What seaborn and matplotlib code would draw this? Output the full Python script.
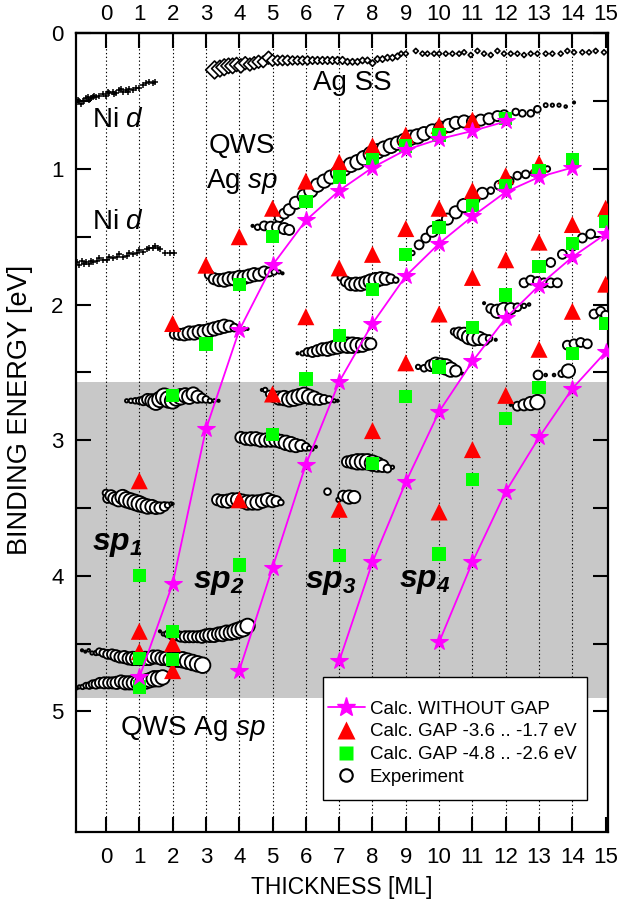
import matplotlib
matplotlib.use('Agg')
import matplotlib.pyplot as plt
from matplotlib.lines import Line2D
from matplotlib.patches import Rectangle
import numpy as np
import pandas as pd
import seaborn as sns

# Calc. WITHOUT GAP (magenta stars), one branch per QWS
sp1_x = [1, 2, 3, 4, 5, 6, 7, 8, 9, 10, 11, 12]
sp1_y = [4.75, 4.06, 2.92, 2.19, 1.71, 1.38, 1.16, 0.99, 0.86, 0.78, 0.72, 0.65]
sp2_x = [4, 5, 6, 7, 8, 9, 10, 11, 12, 13, 14]
sp2_y = [4.70, 3.94, 3.18, 2.57, 2.14, 1.79, 1.55, 1.35, 1.17, 1.06, 0.99]
sp3_x = [7, 8, 9, 10, 11, 12, 13, 14, 15]
sp3_y = [4.63, 3.90, 3.31, 2.79, 2.42, 2.10, 1.86, 1.65, 1.48]
sp4_x = [10, 11, 12, 13, 14, 15]
sp4_y = [4.49, 3.90, 3.38, 2.98, 2.62, 2.35]

# Calc. GAP -3.6 .. -1.7 eV (red triangles)
gap1_x = [1, 1, 1, 2, 2, 2, 3, 4, 4, 5, 5, 6, 6, 7, 7, 7, 8, 8, 8, 9, 9, 9,
          10, 10, 10, 10, 11, 11, 11, 11, 12, 12, 12, 13, 13, 13, 14, 14, 15, 15]
gap1_y = [3.30, 4.41, 4.56, 2.14, 4.50, 4.70, 1.71, 1.50, 3.44, 1.29, 2.66,
          1.09, 2.09, 0.95, 1.73, 3.51, 0.83, 1.63, 2.93, 0.75, 1.44, 2.43,
          0.68, 1.29, 2.07, 3.53, 0.64, 1.16, 1.80, 3.07, 1.05, 1.67, 2.67,
          0.96, 1.54, 2.33, 1.41, 2.05, 1.29, 1.85]

# Calc. GAP -4.8 .. -2.6 eV (green squares)
gap2_x = [1, 1, 1, 2, 2, 2, 3, 4, 4, 5, 5, 6, 6, 7, 7, 7, 8, 8, 8, 9, 9, 9,
          10, 10, 10, 10, 11, 11, 11, 12, 12, 12, 12, 13, 13, 13, 14, 14, 14, 15, 15]
gap2_y = [4.00, 4.61, 4.82, 2.67, 4.41, 4.62, 2.29, 1.85, 3.92, 1.50, 2.96,
          1.24, 2.55, 1.06, 2.23, 3.85, 0.93, 1.89, 3.17, 0.83, 1.63, 2.68,
          0.75, 1.43, 2.46, 3.84, 1.27, 2.17, 3.29, 0.63, 1.12, 1.93, 2.84,
          1.01, 1.72, 2.61, 0.93, 1.55, 2.36, 1.39, 2.14]

# Experiment: (thickness, binding energy, intensity) per peak track
exp_a = [(5.2, 1.36, 4), (5.35, 1.33, 4.5), (5.5, 1.30, 5), (5.7, 1.25, 5.5), (5.95, 1.20, 6),
         (6.15, 1.16, 6), (6.35, 1.12, 6), (6.55, 1.09, 6), (6.75, 1.06, 6), (6.95, 1.03, 6),
         (7.15, 1.00, 6), (7.35, 0.97, 6.5), (7.55, 0.95, 6.5), (7.75, 0.92, 6.5), (7.95, 0.89, 6.5),
         (8.15, 0.87, 6.5), (8.35, 0.85, 6.5), (8.55, 0.83, 6.5), (8.75, 0.81, 6), (8.95, 0.79, 6),
         (9.15, 0.77, 6.5), (9.35, 0.76, 6.5), (9.55, 0.74, 6), (9.8, 0.72, 6), (10.05, 0.70, 6),
         (10.3, 0.68, 6), (10.5, 0.66, 5.5), (10.75, 0.65, 5.5), (11.0, 0.65, 5), (11.25, 0.64, 5),
         (11.5, 0.63, 5), (11.75, 0.61, 4.5), (11.95, 0.60, 4), (12.3, 0.58, 3), (12.5, 0.59, 3),
         (12.75, 0.59, 3), (12.95, 0.56, 3), (13.2, 0.53, 1.8), (13.4, 0.53, 1.5), (13.6, 0.53, 1.5),
         (13.8, 0.54, 1.2), (14.05, 0.51, 1)]
exp_b = [(4.4, 1.42, 1), (4.55, 1.43, 2.5), (4.75, 1.42, 4), (4.95, 1.43, 5), (5.15, 1.43, 5),
         (5.35, 1.44, 5), (5.5, 1.45, 4.5)]
exp_c = [(3.1, 1.78, 4), (3.25, 1.81, 5), (3.4, 1.82, 5.5), (3.55, 1.82, 6), (3.7, 1.81, 6),
         (3.85, 1.81, 6), (4.0, 1.80, 6), (4.15, 1.80, 6), (4.3, 1.79, 6), (4.45, 1.78, 6),
         (4.6, 1.78, 5.5), (4.75, 1.76, 5), (4.9, 1.76, 4), (5.05, 1.76, 2.5), (5.2, 1.76, 1.5),
         (5.3, 1.77, 1)]
exp_d = [(2.05, 2.22, 4), (2.2, 2.22, 5), (2.35, 2.22, 5.5), (2.5, 2.21, 6), (2.65, 2.21, 6),
         (2.8, 2.20, 6), (2.95, 2.20, 6), (3.1, 2.19, 6), (3.25, 2.18, 6), (3.4, 2.17, 6),
         (3.55, 2.16, 6), (3.7, 2.16, 5), (3.85, 2.17, 3.5), (4.0, 2.18, 2), (4.15, 2.18, 1.5),
         (4.25, 2.18, 1)]
exp_e = [(0.62, 2.71, 1.5), (0.75, 2.71, 2), (0.88, 2.71, 2.5), (1.0, 2.71, 3), (1.12, 2.71, 4),
         (1.25, 2.70, 5), (1.38, 2.71, 6), (1.5, 2.72, 7), (1.62, 2.70, 7), (1.75, 2.68, 7.5),
         (1.88, 2.70, 7.5), (2.0, 2.71, 7), (2.12, 2.69, 7), (2.25, 2.68, 7), (2.38, 2.67, 6.5),
         (2.5, 2.68, 6.5), (2.62, 2.66, 6), (2.75, 2.68, 5.5), (2.88, 2.69, 4), (3.0, 2.70, 3),
         (3.12, 2.71, 2), (3.25, 2.71, 1.5), (3.38, 2.71, 1)]
exp_f = [(4.68, 2.63, 1), (4.78, 2.63, 2), (4.9, 2.66, 3), (5.05, 2.68, 5), (5.2, 2.69, 6),
         (5.35, 2.69, 6.5), (5.5, 2.70, 6.5), (5.65, 2.69, 7), (5.8, 2.68, 7), (5.95, 2.67, 7),
         (6.1, 2.68, 6.5), (6.25, 2.69, 6), (6.4, 2.70, 5), (6.55, 2.70, 4), (6.7, 2.70, 3),
         (6.85, 2.71, 1.5), (6.95, 2.71, 1)]
exp_g = [(5.75, 2.36, 1), (5.9, 2.36, 2), (6.05, 2.35, 3.5), (6.2, 2.35, 4.5), (6.35, 2.34, 5),
         (6.5, 2.33, 5.5), (6.65, 2.33, 6), (6.8, 2.32, 6), (6.95, 2.31, 6.5), (7.1, 2.30, 6.5),
         (7.25, 2.30, 7), (7.4, 2.30, 7), (7.55, 2.30, 6.5), (7.7, 2.30, 6), (7.85, 2.29, 5.5),
         (7.95, 2.29, 5)]
exp_h = [(7.05, 1.80, 3), (7.2, 1.83, 4.5), (7.35, 1.85, 5.5), (7.5, 1.85, 6), (7.65, 1.85, 6),
         (7.8, 1.84, 6), (7.95, 1.83, 6.5), (8.1, 1.82, 6.5), (8.25, 1.81, 6), (8.4, 1.81, 5.5),
         (8.55, 1.81, 4), (8.7, 1.82, 2.5)]
exp_i = [(4.05, 2.98, 5), (4.2, 2.99, 5.5), (4.35, 2.99, 6), (4.5, 2.99, 6), (4.65, 3.00, 6),
         (4.8, 3.00, 6), (4.95, 3.00, 6), (5.1, 3.00, 6), (5.25, 3.01, 6), (5.4, 3.02, 6.5),
         (5.55, 3.03, 6.5), (5.7, 3.04, 6), (5.85, 3.04, 5), (6.0, 3.05, 3.5), (6.1, 3.06, 2),
         (6.2, 3.07, 1), (6.3, 3.05, 1)]
exp_j = [(7.25, 3.16, 5), (7.4, 3.16, 6), (7.55, 3.16, 7), (7.7, 3.16, 7), (7.85, 3.16, 7),
         (8.0, 3.17, 7), (8.15, 3.18, 6.5), (8.3, 3.19, 5.5), (8.45, 3.21, 3.5), (8.6, 3.20, 1.5)]
exp_k = [(0.0, 3.39, 3), (0.05, 3.43, 4), (0.15, 3.41, 5), (0.25, 3.43, 5.5), (0.38, 3.44, 6),
         (0.5, 3.42, 6.5), (0.62, 3.44, 7), (0.75, 3.45, 7), (0.88, 3.46, 7), (1.0, 3.47, 7),
         (1.12, 3.48, 6.5), (1.25, 3.49, 6.5), (1.38, 3.49, 6), (1.5, 3.50, 5.5), (1.62, 3.50, 5),
         (1.75, 3.49, 4), (1.85, 3.48, 2.5), (1.95, 3.47, 1.5), (2.0, 3.47, 1)]
exp_l = [(3.35, 3.44, 5), (3.5, 3.45, 5.5), (3.65, 3.45, 6), (3.8, 3.44, 6), (3.95, 3.44, 6),
         (4.1, 3.45, 6), (4.25, 3.46, 6.5), (4.4, 3.46, 6.5), (4.55, 3.46, 6.5), (4.7, 3.45, 6),
         (4.85, 3.44, 6), (5.0, 3.45, 5.5), (5.12, 3.45, 4.5), (5.25, 3.46, 2.5)]
exp_m = [(6.65, 3.38, 3), (6.98, 3.44, 2), (7.12, 3.41, 4.5), (7.3, 3.42, 6), (7.45, 3.42, 5.5)]
exp_n = [(9.2, 1.62, 2), (9.4, 1.56, 4), (9.6, 1.51, 4), (9.8, 1.46, 5), (10.0, 1.42, 5),
         (10.25, 1.37, 5), (10.5, 1.32, 5.5), (10.75, 1.27, 6), (11.05, 1.22, 5), (11.3, 1.18, 5),
         (11.55, 1.16, 3), (11.8, 1.12, 4), (12.1, 1.09, 4), (12.35, 1.05, 3.5), (12.6, 1.04, 3.5),
         (12.85, 1.03, 3), (13.1, 1.01, 3), (13.25, 1.00, 2.5)]
exp_o = [(9.37, 2.46, 2), (9.55, 2.47, 3), (9.75, 2.45, 5), (9.9, 2.44, 6), (10.05, 2.45, 6.5),
         (10.2, 2.46, 7), (10.35, 2.48, 6.5), (10.5, 2.49, 5), (10.7, 2.51, 1)]
exp_p = [(10.45, 2.20, 3), (10.6, 2.21, 5), (10.75, 2.22, 6), (10.9, 2.24, 6.5), (11.05, 2.25, 6.5),
         (11.2, 2.25, 6), (11.35, 2.26, 5), (11.5, 2.25, 3), (11.7, 2.26, 1)]
exp_q = [(11.35, 1.99, 1), (11.55, 2.03, 4), (11.75, 2.05, 6), (11.95, 2.04, 6.5), (12.15, 2.03, 5),
         (12.35, 2.02, 3.5), (12.55, 2.01, 2), (12.7, 2.00, 1.2)]
exp_r = [(12.15, 2.74, 1), (12.35, 2.75, 4), (12.55, 2.74, 5), (12.75, 2.73, 6), (12.95, 2.72, 6.5)]
exp_s = [(12.97, 2.52, 4), (13.2, 2.52, 1.2), (13.45, 2.52, 1.2), (13.68, 2.51, 3), (13.88, 2.49, 6)]
exp_t = [(12.55, 1.84, 4), (12.75, 1.82, 4), (12.95, 1.83, 4), (13.15, 1.84, 4), (13.35, 1.84, 4),
         (13.55, 1.84, 4)]
exp_u = [(13.85, 2.30, 4), (14.05, 2.29, 4), (14.25, 2.28, 4), (14.45, 2.29, 4)]
exp_v = [(13.35, 1.69, 4), (13.7, 1.63, 4), (14.0, 1.57, 4), (14.3, 1.51, 4), (14.55, 1.48, 4)]
exp_w = [(14.65, 2.07, 4), (14.85, 2.05, 4), (15.0, 2.08, 4)]
exp_x = [(1.62, 4.41, 1), (1.72, 4.43, 1.5), (1.85, 4.43, 3), (2.0, 4.44, 4), (2.12, 4.44, 4.5),
         (2.25, 4.45, 4.5), (2.38, 4.45, 5), (2.5, 4.45, 5), (2.62, 4.45, 5), (2.75, 4.45, 5),
         (2.88, 4.45, 5.5), (3.0, 4.44, 5.5), (3.12, 4.44, 6), (3.25, 4.44, 6), (3.38, 4.43, 6),
         (3.5, 4.43, 6.5), (3.62, 4.42, 6.5), (3.75, 4.42, 6.5), (3.88, 4.41, 7), (4.0, 4.40, 7),
         (4.12, 4.39, 7), (4.25, 4.37, 6.5)]
exp_y = [(-0.72, 4.55, 1), (-0.62, 4.56, 1), (-0.52, 4.55, 1.2), (-0.42, 4.57, 1.5), (-0.3, 4.57, 2),
         (-0.2, 4.56, 3), (-0.08, 4.57, 3.5), (0.05, 4.58, 4), (0.18, 4.58, 4.5), (0.3, 4.59, 5),
         (0.42, 4.60, 5), (0.55, 4.60, 5.5), (0.68, 4.61, 5.5), (0.8, 4.61, 6), (0.92, 4.61, 6),
         (1.05, 4.61, 6), (1.18, 4.61, 6), (1.3, 4.61, 6), (1.42, 4.60, 6), (1.55, 4.60, 6),
         (1.68, 4.61, 6), (1.8, 4.61, 6), (1.92, 4.62, 6), (2.05, 4.62, 6.5), (2.18, 4.62, 6.5),
         (2.3, 4.62, 7), (2.45, 4.63, 7), (2.6, 4.64, 7), (2.75, 4.65, 7), (2.9, 4.66, 7)]
exp_z = [(-0.87, 4.83, 1), (-0.8, 4.82, 1.5), (-0.7, 4.82, 2), (-0.6, 4.81, 2.5), (-0.5, 4.81, 3),
         (-0.4, 4.80, 3.5), (-0.3, 4.80, 4), (-0.18, 4.79, 4.5), (-0.05, 4.79, 5), (0.08, 4.79, 5),
         (0.2, 4.79, 5), (0.32, 4.79, 5.5), (0.45, 4.78, 5.5), (0.58, 4.79, 6), (0.7, 4.79, 6),
         (0.82, 4.79, 6), (0.95, 4.79, 6), (1.08, 4.78, 6), (1.2, 4.78, 6.5), (1.32, 4.77, 6.5),
         (1.45, 4.76, 7), (1.58, 4.76, 7), (1.7, 4.75, 6.5)]
experiment = [exp_a, exp_b, exp_c, exp_d, exp_e, exp_f, exp_g, exp_h, exp_i, exp_j, exp_k,
              exp_l, exp_m, exp_n, exp_o, exp_p, exp_q, exp_r, exp_s, exp_t, exp_u, exp_v,
              exp_w, exp_x, exp_y, exp_z]

# Ag surface state (diamonds)
agss = [(3.26, 0.27, 7), (3.42, 0.26, 6.5), (3.55, 0.25, 6.5), (3.68, 0.24, 6), (3.8, 0.24, 6),
        (3.92, 0.23, 5.5), (4.05, 0.24, 5.5), (4.18, 0.22, 5), (4.32, 0.23, 5), (4.45, 0.22, 5),
        (4.58, 0.21, 5), (4.72, 0.21, 4.5), (4.88, 0.18, 5), (5.0, 0.20, 4.5), (5.15, 0.20, 4),
        (5.3, 0.20, 4), (5.45, 0.20, 4), (5.6, 0.20, 3.5), (5.75, 0.20, 3.5), (5.9, 0.20, 3.5),
        (6.05, 0.20, 3.5), (6.2, 0.20, 3), (6.35, 0.20, 3), (6.5, 0.20, 3), (6.65, 0.20, 3),
        (6.8, 0.20, 3), (6.95, 0.20, 3), (7.1, 0.20, 3), (7.25, 0.21, 2.5), (7.4, 0.21, 2.5),
        (7.55, 0.21, 2.5), (7.7, 0.20, 2.5), (7.85, 0.20, 2.5), (8.0, 0.22, 2.5), (8.15, 0.19, 2.5),
        (8.3, 0.19, 2.5), (8.45, 0.18, 2.5), (8.6, 0.18, 2.5), (8.75, 0.17, 2.5), (8.86, 0.15, 2),
        (9.0, 0.15, 2), (9.3, 0.13, 2), (9.5, 0.15, 2), (9.65, 0.15, 2), (9.85, 0.15, 2),
        (10.0, 0.15, 2), (10.2, 0.15, 2), (10.4, 0.15, 2), (10.6, 0.15, 2), (10.75, 0.14, 2),
        (10.95, 0.16, 2), (11.15, 0.13, 2), (11.35, 0.15, 2), (11.55, 0.16, 2), (11.75, 0.13, 2),
        (11.95, 0.15, 2), (12.15, 0.15, 2), (12.35, 0.15, 2), (12.55, 0.16, 2), (12.75, 0.15, 2),
        (12.95, 0.15, 2), (13.2, 0.15, 2), (13.4, 0.15, 2), (13.65, 0.15, 2), (13.85, 0.13, 2),
        (14.05, 0.14, 2), (14.3, 0.14, 2), (14.5, 0.14, 2), (14.7, 0.13, 2), (14.95, 0.14, 2)]

# Ni d bands (small crosses)
nid_top_x = [-0.87, -0.85, -0.8, -0.75, -0.7, -0.65, -0.6, -0.55, -0.5, -0.45, -0.4, -0.35,
             -0.3, -0.2, -0.1, 0.0, 0.05, 0.1, 0.2, 0.25, 0.3, 0.4, 0.45, 0.5, 0.6, 0.65,
             0.7, 0.8, 0.9, 1.0, 1.1, 1.2, 1.3, 1.4, 1.47]
nid_top_y = [0.51, 0.49, 0.50, 0.52, 0.50, 0.50, 0.48, 0.47, 0.49, 0.48, 0.47, 0.46,
             0.47, 0.46, 0.45, 0.46, 0.43, 0.44, 0.43, 0.45, 0.44, 0.42, 0.41, 0.43, 0.42, 0.43,
             0.41, 0.42, 0.40, 0.40, 0.38, 0.37, 0.36, 0.37, 0.36]
nid_bot_x = [-0.87, -0.8, -0.72, -0.65, -0.6, -0.52, -0.45, -0.38, -0.27, -0.2, -0.1, 0.03,
             0.1, 0.2, 0.33, 0.4, 0.5, 0.63, 0.7, 0.8, 0.93, 1.0, 1.1, 1.23, 1.3, 1.4, 1.47,
             1.55, 1.62, 1.77, 1.92, 2.03]
nid_bot_y = [1.69, 1.71, 1.68, 1.70, 1.69, 1.70, 1.68, 1.69, 1.68, 1.66, 1.67, 1.67,
             1.65, 1.66, 1.65, 1.63, 1.65, 1.64, 1.62, 1.63, 1.62, 1.60, 1.61, 1.59, 1.58, 1.58, 1.57,
             1.58, 1.59, 1.62, 1.62, 1.62]

thickness_ticks = list(range(0, 16))
energy_ticks = [0, 0.5, 1, 1.5, 2, 2.5, 3, 3.5, 4, 4.5, 5]
energy_labels = ['0', '', '1', '', '2', '', '3', '', '4', '', '5']

MAGENTA = '#FF00FF'
RED = '#FF0000'
GREEN = '#00FF00'

sns.set_theme(style='ticks', rc={'axes.edgecolor': 'black', 'text.color': 'black',
                                 'xtick.color': 'black', 'ytick.color': 'black',
                                 'axes.labelcolor': 'black'})
plt.rcParams['font.family'] = ['Liberation Sans', 'DejaVu Sans']
plt.rcParams['mathtext.fontset'] = 'custom'
plt.rcParams['mathtext.rm'] = 'Liberation Sans'
plt.rcParams['mathtext.it'] = 'Liberation Sans:italic'
plt.rcParams['mathtext.bf'] = 'Liberation Sans:italic:bold'

fig = plt.figure(figsize=(6.25, 9.08), dpi=100)
ax = fig.add_axes([0.1216, 0.0837, 0.8512, 0.8796])

ax.axhspan(2.57, 4.9, color='#C8C8C8', lw=0, zorder=0)
for t in thickness_ticks[:-1]:
    ax.axvline(t, color='black', lw=0.8, ls=(0, (1.2, 2.2)), zorder=1)

# Ni d and Ag SS
sns.scatterplot(x=nid_top_x, y=nid_top_y, marker='+', s=18, color='black', linewidth=1.1,
                ax=ax, zorder=2, legend=False)
sns.scatterplot(x=nid_bot_x, y=nid_bot_y, marker='+', s=18, color='black', linewidth=1.1,
                ax=ax, zorder=2, legend=False)
ss = pd.DataFrame(agss, columns=['x', 'y', 'w'])
sns.scatterplot(x=ss.x, y=ss.y, s=(1.3 * ss.w.to_numpy()) ** 2, marker='D',
                facecolor='white', edgecolor='black', linewidth=1.2, ax=ax, zorder=2, legend=False)

# experiment
exp_df = pd.concat([pd.DataFrame(c, columns=['x', 'y', 'w']) for c in experiment], ignore_index=True)
sns.scatterplot(x=exp_df.x, y=exp_df.y, s=(1.6 * exp_df.w.to_numpy()) ** 2, marker='o',
                facecolor='white', edgecolor='black', linewidth=1.35, ax=ax, zorder=3, legend=False)

# calculations
sns.scatterplot(x=gap1_x, y=gap1_y, marker='^', s=150, color=RED, edgecolor='none',
                linewidth=0, ax=ax, zorder=4, legend=False)
sns.scatterplot(x=gap2_x, y=gap2_y, marker='s', s=92, color=GREEN, edgecolor='none',
                linewidth=0, ax=ax, zorder=5, legend=False)
for bx, by in [(sp1_x, sp1_y), (sp2_x, sp2_y), (sp3_x, sp3_y), (sp4_x, sp4_y)]:
    sns.lineplot(x=bx, y=by, sort=False, estimator=None, color=MAGENTA, lw=1.3,
                 marker='*', markersize=13, markeredgecolor=MAGENTA, ax=ax, zorder=6)

ax.set_xlim(-0.9, 15.07)
ax.set_ylim(5.89, 0)
ax.set_xticks(thickness_ticks)
ax.set_yticks(energy_ticks)
ax.set_yticklabels(energy_labels)
ax.tick_params(direction='in', length=11, width=1.5, labelsize=16,
               top=False, right=True, labeltop=False, labelbottom=True)
ax.tick_params(axis='x', pad=11)
ax.tick_params(axis='y', pad=9)
top = ax.secondary_xaxis('top')
top.set_xticks(thickness_ticks)
top.tick_params(direction='in', length=11, width=1.5, labelsize=16, pad=6)
for sp in list(ax.spines.values()) + list(top.spines.values()):
    sp.set_linewidth(1.6)
    sp.set_color('black')

ax.set_xlabel('THICKNESS [ML]', fontsize=16.5)
ax.set_ylabel('BINDING ENERGY [eV]', fontsize=19.5)
ax.xaxis.set_label_coords(0.5, -0.055)
ax.yaxis.set_label_coords(-0.081, 0.528)

# annotations
ax.text(-0.42, 0.64, 'Ni $d$', fontsize=20, ha='left', va='center')
ax.text(-0.42, 1.39, 'Ni $d$', fontsize=20, ha='left', va='center')
ax.text(4.07, 0.83, 'QWS', fontsize=20, ha='center', va='center')
ax.text(4.07, 1.09, 'Ag $sp$', fontsize=20, ha='center', va='center')
ax.text(6.2, 0.37, 'Ag SS', fontsize=20, ha='left', va='center')
ax.text(0.42, 5.13, 'QWS Ag $sp$', fontsize=20, ha='left', va='center')
for lab, lx, ly in [('1', -0.42, 3.81), ('2', 2.6, 4.09), ('3', 5.96, 4.09), ('4', 8.8, 4.08)]:
    ax.text(lx, ly, r'$\mathbf{sp}_\mathbf{%s}$' % lab, fontsize=23, ha='left',
            va='baseline', zorder=7)

# legend: frame drawn as its own box, entries placed inside it
box_x0, box_y0, box_x1, box_y1 = 0.4643, 0.0401, 0.9605, 0.194
ax.add_patch(Rectangle((box_x0, box_y0), box_x1 - box_x0, box_y1 - box_y0,
                       transform=ax.transAxes, facecolor='white', edgecolor='black',
                       lw=1.0, zorder=9))
handles = [
    Line2D([0], [0], color=MAGENTA, lw=1.3, marker='*', ms=14, mec=MAGENTA),
    Line2D([0], [0], ls='none', marker='^', ms=13, color=RED, mec='none'),
    Line2D([0], [0], ls='none', marker='s', ms=10, color=GREEN, mec='none'),
    Line2D([0], [0], ls='none', marker='o', ms=9, mfc='white', mec='black', mew=1.5),
]
labels = ['Calc. WITHOUT GAP', 'Calc. GAP -3.6 .. -1.7 eV', 'Calc. GAP -4.8 .. -2.6 eV', 'Experiment']
leg = ax.legend(handles, labels, loc='center left',
                bbox_to_anchor=(box_x0, (box_y0 + box_y1) / 2 - 0.006),
                fontsize=13.5, frameon=False, handlelength=2.0, handletextpad=0.25,
                labelspacing=0.3, borderpad=0.25, borderaxespad=0)
leg.set_zorder(10)

fig.savefig('out.png', dpi=100)
